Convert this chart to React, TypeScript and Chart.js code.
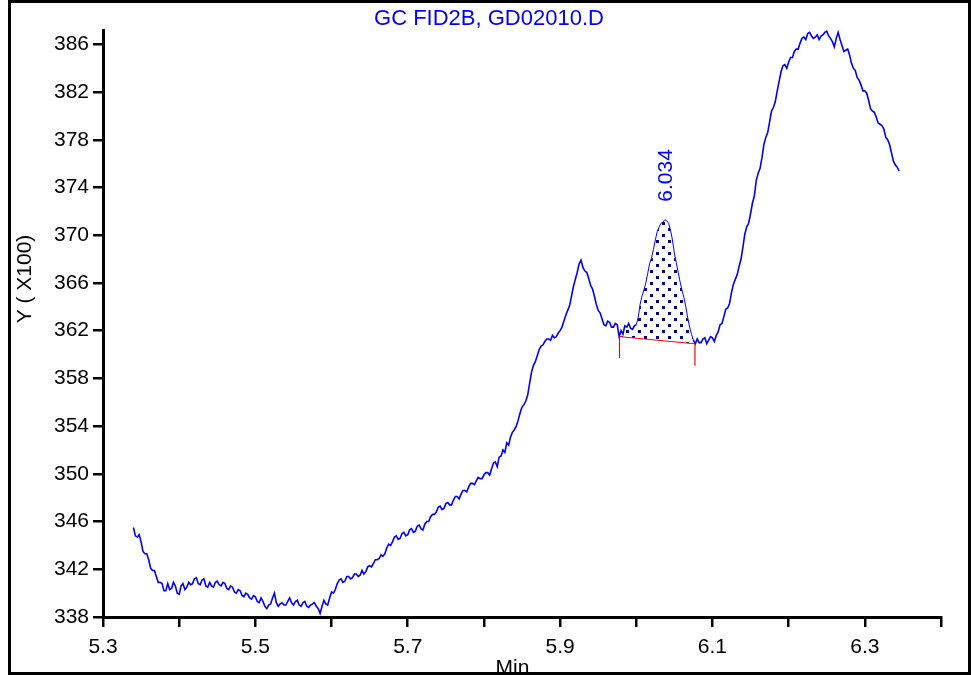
import React, { useEffect, useRef } from "react";
import { Chart, registerables } from "chart.js";

Chart.register(...registerables);

// ---- data ----
const TITLE = "GC FID2B, GD02010.D";
const Y_TITLE = "Y ( X100)";
const X_TITLE = "Min";

// retention time (min)
const TIMES = [
  5.3400, 5.3425, 5.3450, 5.3475, 5.3500, 5.3525, 5.3550, 5.3575, 5.3600, 5.3625, 5.3650, 5.3675, 5.3700, 5.3725, 5.3750, 5.3775, 5.3800, 5.3825, 5.3850, 5.3875,
  5.3900, 5.3925, 5.3950, 5.3975, 5.4000, 5.4025, 5.4050, 5.4075, 5.4100, 5.4125, 5.4150, 5.4175, 5.4200, 5.4225, 5.4250, 5.4275, 5.4300, 5.4325, 5.4350, 5.4375,
  5.4400, 5.4425, 5.4450, 5.4475, 5.4500, 5.4525, 5.4550, 5.4575, 5.4600, 5.4625, 5.4650, 5.4675, 5.4700, 5.4725, 5.4750, 5.4775, 5.4800, 5.4825, 5.4850, 5.4875,
  5.4900, 5.4925, 5.4950, 5.4975, 5.5000, 5.5025, 5.5050, 5.5075, 5.5100, 5.5125, 5.5150, 5.5175, 5.5200, 5.5225, 5.5250, 5.5275, 5.5300, 5.5325, 5.5350, 5.5375,
  5.5400, 5.5425, 5.5450, 5.5475, 5.5500, 5.5525, 5.5550, 5.5575, 5.5600, 5.5625, 5.5650, 5.5675, 5.5700, 5.5725, 5.5750, 5.5775, 5.5800, 5.5825, 5.5850, 5.5875,
  5.5900, 5.5925, 5.5950, 5.5975, 5.6000, 5.6025, 5.6050, 5.6075, 5.6100, 5.6125, 5.6150, 5.6175, 5.6200, 5.6225, 5.6250, 5.6275, 5.6300, 5.6325, 5.6350, 5.6375,
  5.6400, 5.6425, 5.6450, 5.6475, 5.6500, 5.6525, 5.6550, 5.6575, 5.6600, 5.6625, 5.6650, 5.6675, 5.6700, 5.6725, 5.6750, 5.6775, 5.6800, 5.6825, 5.6850, 5.6875,
  5.6900, 5.6925, 5.6950, 5.6975, 5.7000, 5.7025, 5.7050, 5.7075, 5.7100, 5.7125, 5.7150, 5.7175, 5.7200, 5.7225, 5.7250, 5.7275, 5.7300, 5.7325, 5.7350, 5.7375,
  5.7400, 5.7425, 5.7450, 5.7475, 5.7500, 5.7525, 5.7550, 5.7575, 5.7600, 5.7625, 5.7650, 5.7675, 5.7700, 5.7725, 5.7750, 5.7775, 5.7800, 5.7825, 5.7850, 5.7875,
  5.7900, 5.7925, 5.7950, 5.7975, 5.8000, 5.8025, 5.8050, 5.8075, 5.8100, 5.8125, 5.8150, 5.8175, 5.8200, 5.8225, 5.8250, 5.8275, 5.8300, 5.8325, 5.8350, 5.8375,
  5.8400, 5.8425, 5.8450, 5.8475, 5.8500, 5.8525, 5.8550, 5.8575, 5.8600, 5.8625, 5.8650, 5.8675, 5.8700, 5.8725, 5.8750, 5.8775, 5.8800, 5.8825, 5.8850, 5.8875,
  5.8900, 5.8925, 5.8950, 5.8975, 5.9000, 5.9025, 5.9050, 5.9075, 5.9100, 5.9125, 5.9150, 5.9175, 5.9200, 5.9225, 5.9250, 5.9275, 5.9300, 5.9325, 5.9350, 5.9375,
  5.9400, 5.9425, 5.9450, 5.9475, 5.9500, 5.9525, 5.9550, 5.9575, 5.9600, 5.9625, 5.9650, 5.9675, 5.9700, 5.9725, 5.9750, 5.9775, 5.9800, 5.9825, 5.9850, 5.9875,
  5.9900, 5.9925, 5.9950, 5.9975, 6.0000, 6.0025, 6.0050, 6.0075, 6.0100, 6.0125, 6.0150, 6.0175, 6.0200, 6.0225, 6.0250, 6.0275, 6.0300, 6.0325, 6.0350, 6.0375,
  6.0400, 6.0425, 6.0450, 6.0475, 6.0500, 6.0525, 6.0550, 6.0575, 6.0600, 6.0625, 6.0650, 6.0675, 6.0700, 6.0725, 6.0750, 6.0775, 6.0800, 6.0825, 6.0850, 6.0875,
  6.0900, 6.0925, 6.0950, 6.0975, 6.1000, 6.1025, 6.1050, 6.1075, 6.1100, 6.1125, 6.1150, 6.1175, 6.1200, 6.1225, 6.1250, 6.1275, 6.1300, 6.1325, 6.1350, 6.1375,
  6.1400, 6.1425, 6.1450, 6.1475, 6.1500, 6.1525, 6.1550, 6.1575, 6.1600, 6.1625, 6.1650, 6.1675, 6.1700, 6.1725, 6.1750, 6.1775, 6.1800, 6.1825, 6.1850, 6.1875,
  6.1900, 6.1925, 6.1950, 6.1975, 6.2000, 6.2025, 6.2050, 6.2075, 6.2100, 6.2125, 6.2150, 6.2175, 6.2200, 6.2225, 6.2250, 6.2275, 6.2300, 6.2325, 6.2350, 6.2375,
  6.2400, 6.2425, 6.2450, 6.2475, 6.2500, 6.2525, 6.2550, 6.2575, 6.2600, 6.2625, 6.2650, 6.2675, 6.2700, 6.2725, 6.2750, 6.2775, 6.2800, 6.2825, 6.2850, 6.2875,
  6.2900, 6.2925, 6.2950, 6.2975, 6.3000, 6.3025, 6.3050, 6.3075, 6.3100, 6.3125, 6.3150, 6.3175, 6.3200, 6.3225, 6.3250, 6.3275, 6.3300, 6.3325, 6.3350, 6.3375,
  6.3400, 6.3425, 6.3450,
];

// detector signal (x100 counts)
const SIGNAL = [
  345.5, 344.8, 344.7, 344.9, 344.3, 343.5, 343.3, 343.3, 342.8, 342.1, 341.9, 341.9, 341.4, 340.9, 340.9, 340.8, 340.2, 340.2, 340.8, 340.3,
  340.4, 340.9, 340.6, 340.0, 339.9, 340.6, 340.8, 340.3, 340.5, 340.9, 340.7, 340.8, 341.2, 341.3, 340.8, 340.7, 341.1, 341.2, 340.6, 340.5,
  340.9, 340.6, 340.5, 340.9, 341.0, 340.7, 340.6, 340.9, 340.8, 340.4, 340.3, 340.6, 340.5, 340.1, 340.0, 340.3, 340.2, 339.8, 339.7, 340.0,
  339.9, 339.6, 339.5, 339.8, 339.7, 339.3, 339.2, 339.6, 339.3, 338.9, 338.7, 339.0, 339.1, 339.6, 340.0, 339.2, 338.9, 339.1, 339.2, 339.0,
  339.0, 339.3, 339.6, 339.2, 339.0, 339.3, 339.4, 339.0, 338.9, 339.2, 339.3, 338.9, 338.8, 339.0, 339.1, 339.2, 338.9, 338.7, 338.3, 338.9,
  339.4, 339.1, 339.0, 339.6, 340.1, 340.0, 340.3, 340.8, 341.1, 341.2, 340.9, 341.0, 341.4, 341.4, 341.2, 341.3, 341.6, 341.6, 341.4, 341.5,
  341.9, 341.6, 341.8, 342.2, 342.3, 342.2, 342.5, 342.8, 342.8, 342.9, 343.2, 343.1, 343.3, 343.8, 344.1, 344.0, 344.3, 344.7, 344.8, 344.5,
  344.6, 345.0, 345.1, 344.8, 344.9, 345.3, 345.4, 345.1, 345.2, 345.6, 345.7, 345.4, 345.3, 345.8, 346.0, 346.0, 346.4, 346.6, 346.6, 346.8,
  347.2, 347.3, 347.0, 347.1, 347.5, 347.6, 347.4, 347.4, 347.8, 348.1, 348.1, 347.9, 348.3, 348.6, 348.6, 348.5, 348.9, 349.2, 349.2, 349.1,
  349.4, 349.7, 349.6, 349.6, 349.9, 350.1, 350.1, 349.9, 350.4, 350.9, 351.0, 350.6, 351.4, 351.5, 352.0, 351.8, 352.6, 352.4, 353.1, 353.5,
  353.7, 354.0, 354.5, 355.1, 355.6, 355.8, 356.1, 356.6, 357.6, 358.5, 359.1, 359.4, 359.9, 360.4, 360.7, 360.8, 361.1, 361.3, 361.3, 361.2,
  361.6, 361.4, 361.5, 361.8, 362.0, 362.3, 362.8, 363.3, 363.7, 364.1, 364.9, 365.7, 366.3, 366.9, 367.6, 367.9, 367.3, 367.0, 366.9, 366.4,
  365.8, 365.5, 364.9, 364.2, 363.7, 363.5, 363.0, 362.5, 362.4, 362.8, 362.7, 362.3, 362.3, 362.6, 362.5, 361.5, 362.0, 361.7, 362.4, 362.3,
  362.6, 362.2, 362.1, 362.4, 362.5, 363.1, 364.2, 364.9, 365.4, 366.0, 366.8, 367.6, 368.1, 368.8, 369.6, 370.3, 370.7, 371.0, 371.1, 371.3,
  371.2, 371.0, 370.4, 369.6, 368.5, 367.7, 366.9, 366.1, 365.4, 364.8, 364.0, 363.1, 362.3, 361.7, 361.2, 360.9, 361.3, 361.0, 361.0, 361.3,
  361.4, 360.9, 361.2, 361.5, 361.4, 361.1, 361.6, 361.9, 362.5, 362.6, 363.2, 363.8, 363.9, 364.3, 365.2, 365.9, 366.3, 366.7, 367.4, 368.0,
  369.0, 370.1, 370.7, 371.0, 371.8, 372.7, 373.3, 374.6, 375.2, 375.6, 376.5, 377.6, 378.2, 378.6, 379.5, 380.4, 380.7, 381.2, 382.1, 382.9,
  383.7, 384.2, 384.3, 384.0, 384.5, 384.9, 384.9, 385.4, 385.6, 385.6, 386.1, 386.5, 386.6, 386.4, 386.9, 387.0, 386.7, 386.5, 386.6, 386.8,
  386.4, 386.7, 386.8, 387.0, 387.1, 386.7, 386.5, 386.2, 385.8, 386.5, 387.0, 386.4, 385.9, 385.4, 385.5, 385.6, 385.1, 384.4, 384.0, 383.8,
  383.2, 383.0, 382.6, 382.1, 382.1, 381.9, 381.3, 380.6, 380.4, 380.3, 379.9, 379.4, 379.3, 379.2, 378.9, 378.2, 378.0, 377.6, 376.9, 376.2,
  375.9, 375.7, 375.4,
];

// integrated peak
const PEAK_LABEL = "6.034";
const PEAK_RT = 6.034;
const BASELINE_T = [5.978, 6.077];
const BASELINE_V = [361.5, 360.9];
const DROP_V = [359.7, 359.05];

// axes
const X_MIN = 5.3;
const X_MAX = 6.4;
const Y_MIN = 338;
const Y_MAX = 387.2;
const X_TICKS = [5.3, 5.4, 5.5, 5.6, 5.7, 5.8, 5.9, 6.0, 6.1, 6.2, 6.3, 6.4];
const X_TICK_LABELS = ["5.3", "", "5.5", "", "5.7", "", "5.9", "", "6.1", "", "6.3", ""];
const Y_TICKS = [338, 342, 346, 350, 354, 358, 362, 366, 370, 374, 378, 382, 386];
const Y_TICK_LABELS = ["338", "342", "346", "350", "354", "358", "362", "366", "370", "374", "378", "382", "386"];

const FONT_FAMILY = '"Liberation Sans", Arial, sans-serif';
const BLUE = "#0000ff";
const RED = "#ff0000";

export default function App() {
  const canvasRef = useRef<HTMLCanvasElement | null>(null);

  useEffect(() => {
    const canvas = canvasRef.current;
    if (!canvas) return;

    // dotted fill pattern
    const pc = document.createElement("canvas");
    pc.width = 12;
    pc.height = 12;
    const pctx = pc.getContext("2d")!;
    pctx.fillStyle = "#000080";
    pctx.fillRect(0, 0, 3, 3);
    pctx.fillRect(6, 6, 3, 3);
    const pattern = canvas.getContext("2d")!.createPattern(pc, "repeat");

    const trace = TIMES.map((t, i) => ({ x: t, y: SIGNAL[i] }));
    const peak = [
      { x: BASELINE_T[0], y: BASELINE_V[0] },
      ...trace.filter((p) => p.x > BASELINE_T[0] && p.x < BASELINE_T[1]),
      { x: BASELINE_T[1], y: BASELINE_V[1] },
    ];
    const peakTop = Math.max(...peak.map((p) => p.y));
    const baseline = BASELINE_T.map((t, i) => ({ x: t, y: BASELINE_V[i] }));
    const drop1 = [
      { x: BASELINE_T[0], y: BASELINE_V[0] },
      { x: BASELINE_T[0], y: DROP_V[0] },
    ];
    const drop2 = [
      { x: BASELINE_T[1], y: BASELINE_V[1] },
      { x: BASELINE_T[1], y: DROP_V[1] },
    ];

    const textPlugin = {
      id: "gcText",
      afterDraw(chart: any) {
        const ctx = chart.ctx as CanvasRenderingContext2D;
        const xs = chart.scales.x;
        const ys = chart.scales.y;
        ctx.save();
        // title
        ctx.fillStyle = BLUE;
        ctx.font = `22px ${FONT_FAMILY}`;
        ctx.textAlign = "center";
        ctx.textBaseline = "alphabetic";
        ctx.fillText(TITLE, 481, 25);
        // peak label
        ctx.font = `21px ${FONT_FAMILY}`;
        ctx.save();
        ctx.translate(xs.getPixelForValue(PEAK_RT) + 10, ys.getPixelForValue(peakTop) - 18);
        ctx.rotate(-Math.PI / 2);
        ctx.textAlign = "left";
        ctx.fillText(PEAK_LABEL, 0, 0);
        ctx.restore();
        // y title
        ctx.fillStyle = "#000";
        ctx.save();
        ctx.translate(23, 279);
        ctx.rotate(-Math.PI / 2);
        ctx.textAlign = "center";
        ctx.fillText(Y_TITLE, 0, 0);
        ctx.restore();
        // x title
        ctx.textAlign = "center";
        ctx.fillText(X_TITLE, 504.5, 674);
        // frame
        ctx.strokeStyle = "#000";
        ctx.lineWidth = 3;
        ctx.strokeRect(1.5, 1.5, chart.width - 3, chart.height - 3);
        ctx.restore();
      },
    };

    const chart = new Chart(canvas, {
      type: "line",
      data: {
        datasets: [
          {
            data: trace,
            borderColor: BLUE,
            borderWidth: 1.6,
            pointRadius: 0,
            fill: false,
            order: 1,
            segment: {
              borderWidth: (c: any) =>
                c.p0.parsed.x >= BASELINE_T[0] + 0.02 && c.p1.parsed.x <= BASELINE_T[1] ? 1 : 1.6,
            },
          },
          {
            data: peak,
            borderColor: "rgba(0,0,0,0)",
            borderWidth: 0,
            pointRadius: 0,
            backgroundColor: pattern as any,
            fill: "+1",
            order: 2,
          },
          {
            data: baseline,
            borderColor: RED,
            borderWidth: 1,
            pointRadius: 0,
            fill: false,
            order: 0,
          },
          {
            data: drop1,
            borderColor: RED,
            borderWidth: 1.2,
            pointRadius: 0,
            fill: false,
            order: 0,
          },
          {
            data: drop2,
            borderColor: RED,
            borderWidth: 1.2,
            pointRadius: 0,
            fill: false,
            order: 0,
          },
        ],
      },
      options: {
        animation: false,
        responsive: false,
        devicePixelRatio: 1,
        layout: { padding: { left: 0, right: 30, top: 30, bottom: 0 } },
        elements: { line: { tension: 0 }, point: { radius: 0 } },
        plugins: {
          legend: { display: false },
          title: { display: false },
          tooltip: { enabled: false },
        },
        scales: {
          x: {
            type: "linear",
            min: X_MIN,
            max: X_MAX,
            afterBuildTicks: (s: any) => {
              s.ticks = X_TICKS.map((v) => ({ value: v }));
            },
            afterFit: (s: any) => {
              s.height = 58;
            },
            grid: {
              drawOnChartArea: false,
              drawTicks: true,
              tickLength: 10,
              color: "#000",
              lineWidth: 2.5,
            },
            border: { display: true, color: "#000", width: 3 },
            ticks: {
              autoSkip: false,
              maxRotation: 0,
              color: "#000",
              padding: 8,
              font: { family: FONT_FAMILY, size: 21 },
              callback: (_v: any, i: number) => X_TICK_LABELS[i],
            },
          },
          y: {
            type: "linear",
            min: Y_MIN,
            max: Y_MAX,
            afterBuildTicks: (s: any) => {
              s.ticks = Y_TICKS.map((v) => ({ value: v }));
            },
            afterFit: (s: any) => {
              s.width = 95;
            },
            grid: {
              drawOnChartArea: false,
              drawTicks: true,
              tickLength: 10,
              color: "#000",
              lineWidth: 2.5,
            },
            border: { display: true, color: "#000", width: 3 },
            ticks: {
              autoSkip: false,
              color: "#000",
              padding: 4,
              font: { family: FONT_FAMILY, size: 21 },
              callback: (_v: any, i: number) => Y_TICK_LABELS[i],
            },
          },
        },
      },
      plugins: [textPlugin],
    });

    return () => chart.destroy();
  }, []);

  return (
    <div style={{ position: "absolute", left: 8, top: 0, width: 963, height: 675 }}>
      <canvas ref={canvasRef} width={963} height={675} style={{ display: "block", width: 963, height: 675 }} />
    </div>
  );
}
